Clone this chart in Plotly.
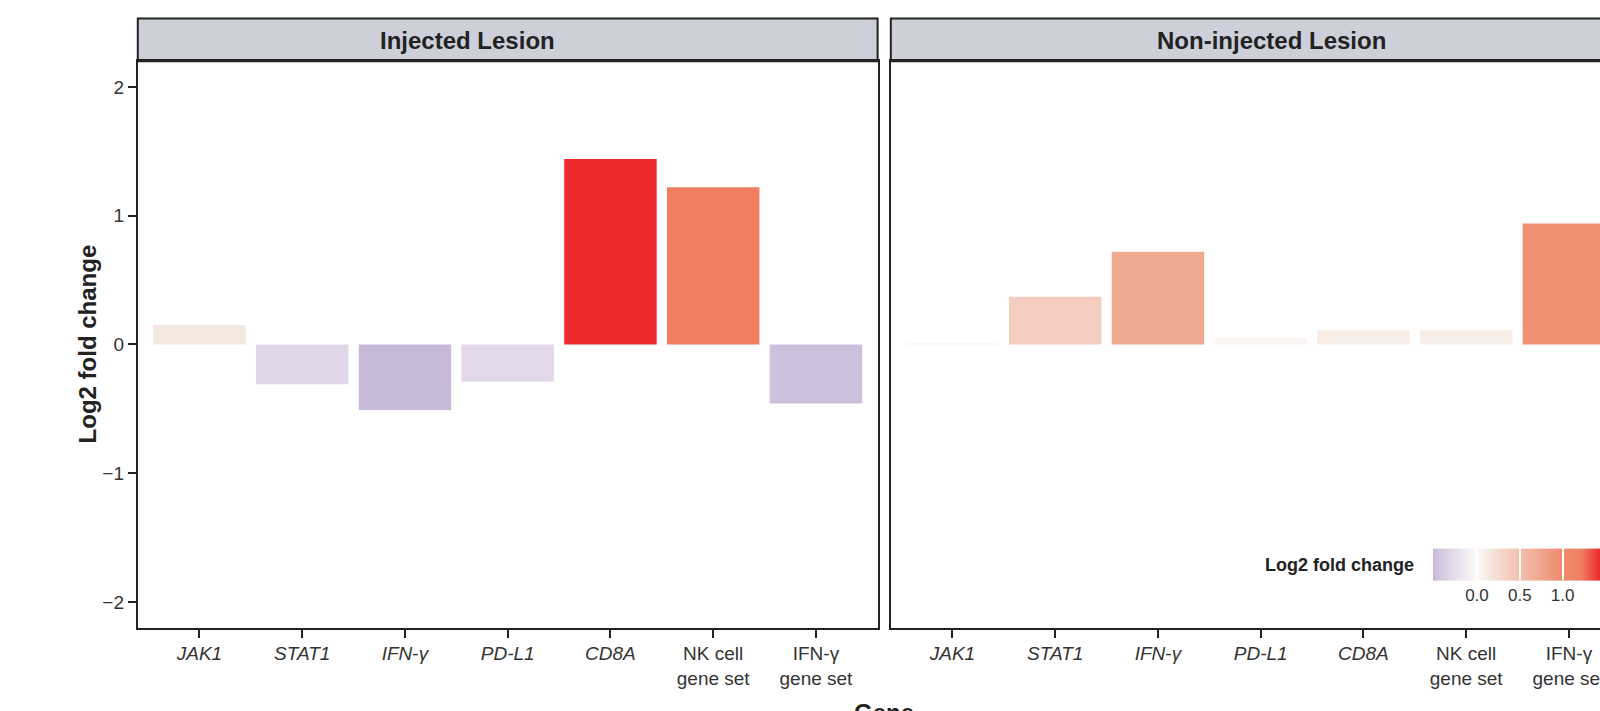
import plotly.graph_objects as go

# ---- data -------------------------------------------------------------
genes = ["JAK1", "STAT1", "IFN-γ", "PD-L1", "CD8A", "NK cell gene set", "IFN-γ gene set"]
tick_labels = ["<i>JAK1</i>", "<i>STAT1</i>", "<i>IFN</i>-<i>γ</i>", "<i>PD-L1</i>", "<i>CD8A</i>",
               "NK cell<br>gene set", "IFN-γ<br>gene set"]
panels = ["Injected Lesion", "Non-injected Lesion"]
lfc_injected = [0.15, -0.31, -0.51, -0.29, 1.44, 1.22, -0.46]
lfc_noninjected = [0.01, 0.37, 0.72, 0.05, 0.11, 0.11, 0.94]
cbar_ticks = [0.0, 0.5, 1.0]

# ---- page geometry (pixels) --------------------------------------------
W, H = 1660, 730
L1, R1 = 137.8, 877.6       # left panel
L2, R2 = 890.8, 1630.6      # right panel
TS, TP, BP = 18.4, 61.2, 627.6  # strip top, panel top, panel bottom
STRIP_TEXT_X = [467.5, 1271.0]  # strip label centres

def fx(x):
    return x / W

def fy(y):
    return 1 - y / H

FONT = "Liberation Sans, Arial, Helvetica, sans-serif"
INK = "#222222"

all_vals = lfc_injected + lfc_noninjected
cmin, cmax = min(all_vals), max(all_vals)

def stop(v, c):
    return [(v - cmin) / (cmax - cmin), c]

# diverging fill: lavender below zero, white at zero, warm reds above
colorscale = [
    stop(cmin, "#c8b9d9"),
    stop(-0.31, "#e1d6e7"),
    stop(0.0, "#fbfaf9"),
    stop(0.15, "#f5e8e0"),
    stop(0.37, "#f4cdc0"),
    stop(0.72, "#f1aa92"),
    stop(0.94, "#f09072"),
    stop(1.22, "#ef7f60"),
    stop(cmax, "#ec2a2e"),
]

fig = go.Figure()
for vals, xa, ya in [(lfc_injected, "x", "y"), (lfc_noninjected, "x2", "y2")]:
    fig.add_trace(go.Bar(
        x=genes, y=vals, xaxis=xa, yaxis=ya, width=0.9,
        marker=dict(color=vals, coloraxis="coloraxis", line=dict(width=0)),
        showlegend=False, hoverinfo="x+y",
    ))

axis_common = dict(
    showgrid=False, zeroline=False, showline=True, mirror=True,
    linecolor=INK, linewidth=2,
    tickfont=dict(family=FONT, size=19, color="#333333"),
)
xcommon = dict(axis_common, type="category", range=[-0.6, 6.6],
               tickmode="array", tickvals=genes, ticktext=tick_labels,
               ticks="outside", ticklen=8, tickwidth=2, tickcolor=INK)
ydom = [fy(BP), fy(TP)]

fig.update_layout(
    width=W, height=H,
    margin=dict(l=0, r=0, t=0, b=0),
    paper_bgcolor="white", plot_bgcolor="white",
    font=dict(family=FONT, color=INK),
    xaxis=dict(xcommon, domain=[fx(L1), fx(R1)], anchor="y"),
    xaxis2=dict(xcommon, domain=[fx(L2), fx(R2)], anchor="y2"),
    yaxis=dict(axis_common, domain=ydom, range=[-2.2, 2.2], anchor="x",
               tickvals=[-2, -1, 0, 1, 2], ticks="outside", ticklen=8,
               tickwidth=2, tickcolor=INK),
    yaxis2=dict(axis_common, domain=ydom, range=[-2.2, 2.2], anchor="x2",
                showticklabels=False, ticks=""),
    coloraxis=dict(
        colorscale=colorscale, cmin=cmin, cmax=cmax,
        colorbar=dict(
            orientation="h", x=fx(1433.3), xanchor="left",
            y=fy(638), yanchor="bottom", xpad=0, ypad=0,
            len=cmax * 85.7 - cmin * 85.7, lenmode="pixels", thickness=32,
            outlinewidth=0, tickmode="array", tickvals=cbar_ticks,
            ticktext=[f"{t:.1f}" for t in cbar_ticks],
            ticks="inside", ticklen=32, tickwidth=1.5, tickcolor="white",
            tickfont=dict(family=FONT, size=17, color="#333333"),
        ),
    ),
)

# facet strips
for (left, right), name, tx in zip([(L1, R1), (L2, R2)], panels, STRIP_TEXT_X):
    fig.add_shape(type="rect", xref="paper", yref="paper",
                  x0=fx(left), x1=fx(right), y0=fy(TP), y1=fy(TS),
                  fillcolor="#cdd0d9", line=dict(color=INK, width=2), layer="below")
    fig.add_annotation(xref="paper", yref="paper", x=fx(tx),
                       y=fy((TS + TP) / 2 + 0.8), text=f"<b>{name}</b>", showarrow=False,
                       font=dict(family=FONT, size=24, color=INK),
                       xanchor="center", yanchor="middle")

# axis titles
fig.add_annotation(xref="paper", yref="paper", x=fx(87), y=fy((TP + BP) / 2),
                   text="<b>Log2 fold change</b>", textangle=-90, showarrow=False,
                   font=dict(family=FONT, size=24, color=INK),
                   xanchor="center", yanchor="middle")
fig.add_annotation(xref="paper", yref="paper", x=fx((L1 + R2) / 2), y=fy(712),
                   text="<b>Gene</b>", showarrow=False,
                   font=dict(family=FONT, size=24, color=INK),
                   xanchor="center", yanchor="middle")

# colour legend title
fig.add_annotation(xref="paper", yref="paper", x=fx(1416), y=fy(565),
                   text="<b>Log2 fold change</b>", showarrow=False,
                   font=dict(family=FONT, size=18, color=INK),
                   xanchor="right", yanchor="middle")

fig.write_html(
    "out.html",
    post_script="document.body.style.margin='0';"
                "document.body.style.overflow='hidden';"
                "document.documentElement.style.overflow='hidden';",
)
